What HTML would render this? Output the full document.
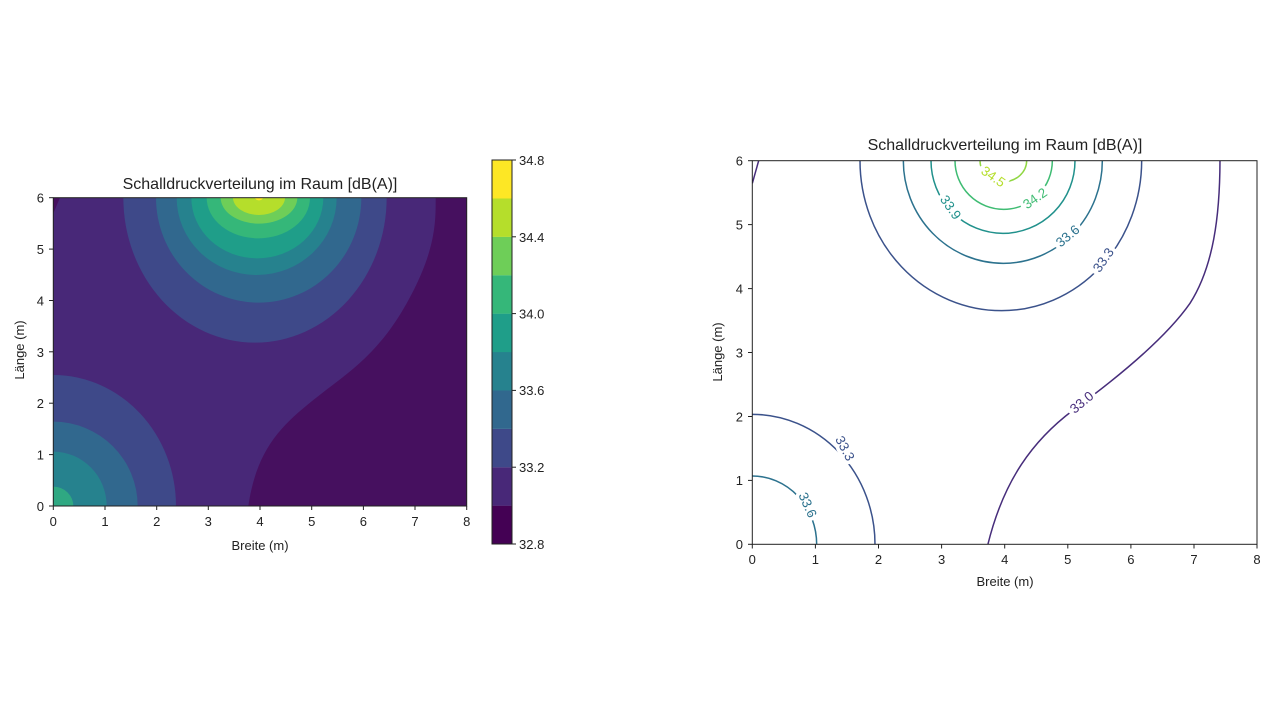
<!DOCTYPE html>
<html><head><meta charset="utf-8"><style>
html,body{margin:0;padding:0;background:#fff;}
svg text{font-family:"Liberation Sans","DejaVu Sans",sans-serif;fill:#222;}
</style></head><body>
<svg width="1280" height="720" viewBox="0 0 1280 720" xmlns="http://www.w3.org/2000/svg">
<defs>
<clipPath id="cl"><rect x="40" y="143" width="1240" height="925"/></clipPath>
<clipPath id="cr"><rect x="37" y="32" width="1511" height="1151"/></clipPath>
</defs>
<!-- LEFT filled contour -->
<g transform="translate(40,150) scale(0.33333)">
 <g clip-path="url(#cl)">
  <rect x="40" y="143" width="1240" height="925" fill="#482878"/>
  <path d="M625,1068 C650,900 720,830 820,750 S1010,620 1100,460 S1187,210 1187,143 L1290,143 L1290,1068 Z" fill="#46105f"/>
  <path d="M40,143 L60,143 L40,190 Z" fill="#46105f"/>
  <ellipse cx="645" cy="143" rx="395" ry="435" fill="#3e4989"/>
  <ellipse cx="656" cy="143" rx="308" ry="315" fill="#31688e"/>
  <ellipse cx="650" cy="143" rx="240" ry="232" fill="#26828e"/>
  <ellipse cx="652" cy="143" rx="198" ry="182" fill="#1f9e89"/>
  <ellipse cx="655" cy="143" rx="155" ry="122" fill="#35b779"/>
  <ellipse cx="657" cy="143" rx="115" ry="78" fill="#6ece58"/>
  <ellipse cx="657" cy="143" rx="78" ry="52" fill="#b5de2b"/>
  <ellipse cx="657" cy="143" rx="12" ry="8" fill="#fde725"/>
  <ellipse cx="40" cy="1068" rx="368" ry="393" fill="#3e4989"/>
  <ellipse cx="40" cy="1068" rx="253" ry="253" fill="#31688e"/>
  <ellipse cx="40" cy="1068" rx="160" ry="163" fill="#26828e"/>
  <ellipse cx="40" cy="1068" rx="60" ry="58" fill="#2fa882"/>
 </g>
</g>
<rect x="53.3" y="197.7" width="413.4" height="308.3" fill="none" stroke="#222" stroke-width="1"/>
<g stroke="#222" stroke-width="1">
 <line x1="53.3" y1="506" x2="53.3" y2="510"/><line x1="105" y1="506" x2="105" y2="510"/><line x1="156.7" y1="506" x2="156.7" y2="510"/><line x1="208.3" y1="506" x2="208.3" y2="510"/><line x1="260" y1="506" x2="260" y2="510"/><line x1="311.7" y1="506" x2="311.7" y2="510"/><line x1="363.4" y1="506" x2="363.4" y2="510"/><line x1="415" y1="506" x2="415" y2="510"/><line x1="466.7" y1="506" x2="466.7" y2="510"/>
 <line x1="49" y1="506" x2="53.3" y2="506"/><line x1="49" y1="454.6" x2="53.3" y2="454.6"/><line x1="49" y1="403.2" x2="53.3" y2="403.2"/><line x1="49" y1="351.8" x2="53.3" y2="351.8"/><line x1="49" y1="300.5" x2="53.3" y2="300.5"/><line x1="49" y1="249.1" x2="53.3" y2="249.1"/><line x1="49" y1="197.7" x2="53.3" y2="197.7"/>
</g>
<g font-size="13" text-anchor="middle">
 <text x="53.3" y="526">0</text><text x="105" y="526">1</text><text x="156.7" y="526">2</text><text x="208.3" y="526">3</text><text x="260" y="526">4</text><text x="311.7" y="526">5</text><text x="363.4" y="526">6</text><text x="415" y="526">7</text><text x="466.7" y="526">8</text>
</g>
<g font-size="13" text-anchor="end">
 <text x="44" y="511">0</text><text x="44" y="459.6">1</text><text x="44" y="408.2">2</text><text x="44" y="356.8">3</text><text x="44" y="305.5">4</text><text x="44" y="254.1">5</text><text x="44" y="202.7">6</text>
</g>
<text x="260" y="550" font-size="13" text-anchor="middle">Breite (m)</text>
<text transform="translate(24,350) rotate(-90)" font-size="13" text-anchor="middle">Länge (m)</text>
<text x="260" y="189" font-size="16" text-anchor="middle">Schalldruckverteilung im Raum [dB(A)]</text>
<!-- colorbar -->
<g>
 <rect x="492" y="505.6" width="20" height="38.4" fill="#440154"/>
 <rect x="492" y="467.2" width="20" height="38.5" fill="#482878"/>
 <rect x="492" y="428.8" width="20" height="38.5" fill="#3e4989"/>
 <rect x="492" y="390.4" width="20" height="38.5" fill="#31688e"/>
 <rect x="492" y="352" width="20" height="38.5" fill="#26828e"/>
 <rect x="492" y="313.6" width="20" height="38.5" fill="#1f9e89"/>
 <rect x="492" y="275.2" width="20" height="38.5" fill="#35b779"/>
 <rect x="492" y="236.8" width="20" height="38.5" fill="#6ece58"/>
 <rect x="492" y="198.4" width="20" height="38.5" fill="#b5de2b"/>
 <rect x="492" y="160" width="20" height="38.5" fill="#fde725"/>
 <rect x="492" y="160" width="20" height="384" fill="none" stroke="#222" stroke-width="1"/>
 <g stroke="#222"><line x1="512" y1="544" x2="516" y2="544"/><line x1="512" y1="467.2" x2="516" y2="467.2"/><line x1="512" y1="390.4" x2="516" y2="390.4"/><line x1="512" y1="313.6" x2="516" y2="313.6"/><line x1="512" y1="236.8" x2="516" y2="236.8"/><line x1="512" y1="160" x2="516" y2="160"/></g>
 <g font-size="13"><text x="519" y="549">32.8</text><text x="519" y="472">33.2</text><text x="519" y="395">33.6</text><text x="519" y="318.6">34.0</text><text x="519" y="241.8">34.4</text><text x="519" y="165">34.8</text></g>
</g>
<!-- RIGHT line contour -->
<g transform="translate(740,150) scale(0.33333)">
 <g clip-path="url(#cr)" fill="none" stroke-width="4.5">
  <path d="M37,100 L58,25" stroke="#472d7b"/>
  <path d="M742,1190 C790,990 880,870 1000,780 C1150,670 1280,560 1350,460 C1420,350 1440,200 1440,25" stroke="#472d7b"/>
  <path d="M360,32 A425,450 0 0 0 785,482 A420,450 0 0 0 1205,32" stroke="#3b528b"/>
  <path d="M490,32 A300,308 0 0 0 790,340 A297,308 0 0 0 1087,32" stroke="#2c728e"/>
  <path d="M573,32 A216,218 0 0 0 789,250 A216,218 0 0 0 1005,32" stroke="#21918c"/>
  <path d="M645,32 A146,146 0 0 0 791,178 A146,146 0 0 0 937,32" stroke="#3fbc73"/>
  <path d="M720,32 A70,63 0 0 0 790,95 A70,63 0 0 0 860,32" stroke="#90d743"/>
  <path d="M37,793 A368,390 0 0 1 405,1183" stroke="#3b528b"/>
  <path d="M37,978 A193,205 0 0 1 230,1183" stroke="#2c728e"/>
 </g>
 <g font-size="40" text-anchor="middle" stroke="#fff" stroke-width="22" paint-order="stroke" dominant-baseline="central">
  <text transform="translate(1025,757) rotate(-40)" style="fill:#472d7b">33.0</text>
  <text transform="translate(1090,330) rotate(-55)" style="fill:#3b528b">33.3</text>
  <text transform="translate(983,258) rotate(-40)" style="fill:#2c728e">33.6</text>
  <text transform="translate(632,172) rotate(55)" style="fill:#21918c">33.9</text>
  <text transform="translate(885,145) rotate(-35)" style="fill:#3fbc73">34.2</text>
  <text transform="translate(760,80) rotate(35)" style="fill:#b5de2b">34.5</text>
  <text transform="translate(315,895) rotate(62)" style="fill:#3b528b">33.3</text>
  <text transform="translate(203,1065) rotate(66)" style="fill:#2c728e">33.6</text>
 </g>
</g>
<rect x="752.3" y="160.7" width="504.7" height="383.6" fill="none" stroke="#222" stroke-width="1"/>
<g stroke="#222" stroke-width="1">
 <line x1="752.3" y1="544.3" x2="752.3" y2="548.5"/><line x1="815.4" y1="544.3" x2="815.4" y2="548.5"/><line x1="878.5" y1="544.3" x2="878.5" y2="548.5"/><line x1="941.6" y1="544.3" x2="941.6" y2="548.5"/><line x1="1004.7" y1="544.3" x2="1004.7" y2="548.5"/><line x1="1067.8" y1="544.3" x2="1067.8" y2="548.5"/><line x1="1130.9" y1="544.3" x2="1130.9" y2="548.5"/><line x1="1194" y1="544.3" x2="1194" y2="548.5"/><line x1="1257" y1="544.3" x2="1257" y2="548.5"/>
 <line x1="748" y1="544.3" x2="752.3" y2="544.3"/><line x1="748" y1="480.4" x2="752.3" y2="480.4"/><line x1="748" y1="416.5" x2="752.3" y2="416.5"/><line x1="748" y1="352.5" x2="752.3" y2="352.5"/><line x1="748" y1="288.6" x2="752.3" y2="288.6"/><line x1="748" y1="224.6" x2="752.3" y2="224.6"/><line x1="748" y1="160.7" x2="752.3" y2="160.7"/>
</g>
<g font-size="13" text-anchor="middle">
 <text x="752.3" y="564">0</text><text x="815.4" y="564">1</text><text x="878.5" y="564">2</text><text x="941.6" y="564">3</text><text x="1004.7" y="564">4</text><text x="1067.8" y="564">5</text><text x="1130.9" y="564">6</text><text x="1194" y="564">7</text><text x="1257" y="564">8</text>
</g>
<g font-size="13" text-anchor="end">
 <text x="743" y="549">0</text><text x="743" y="485">1</text><text x="743" y="421.5">2</text><text x="743" y="357.5">3</text><text x="743" y="293.6">4</text><text x="743" y="229.6">5</text><text x="743" y="165.7">6</text>
</g>
<text x="1005" y="586" font-size="13" text-anchor="middle">Breite (m)</text>
<text transform="translate(722,352) rotate(-90)" font-size="13" text-anchor="middle">Länge (m)</text>
<text x="1005" y="150" font-size="16" text-anchor="middle">Schalldruckverteilung im Raum [dB(A)]</text>
</svg>
</body></html>
